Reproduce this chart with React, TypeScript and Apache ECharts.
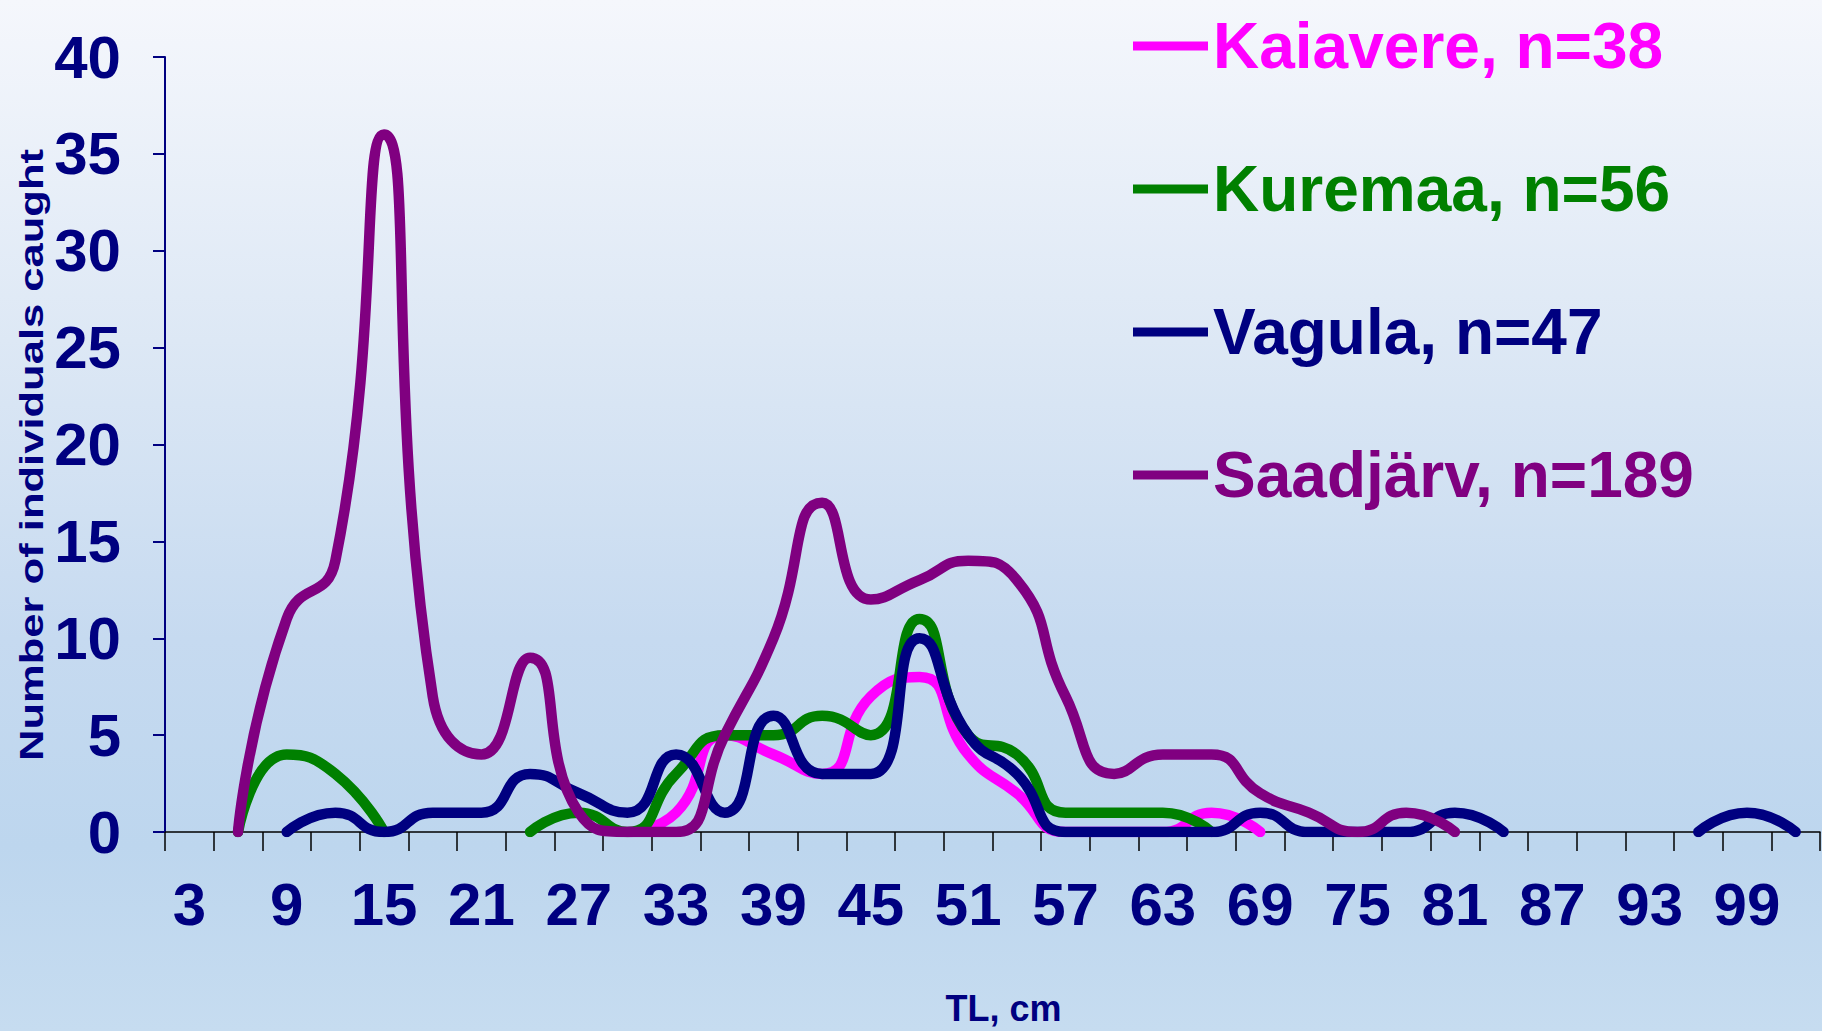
import React, { useEffect, useRef } from 'react';
import * as echarts from 'echarts';

const categories = [
  '3', '6', '9', '12', '15', '18', '21', '24', '27', '30', '33', '36', '39', '42', '45', '48', '51',
  '54', '57', '60', '63', '66', '69', '72', '75', '78', '81', '84', '87', '90', '93', '96', '99', '102',
];

// values per category (3 ... 102); null = no point
const kaiavere = [
  null, null, null, null, null, null, null, null, null, 0, 1, 5, 4, 3, 7, 8, 4,
  2, 0, 0, 0, 1, 0, null, null, null, null, null, null, null, null, null, null, null,
];
const kuremaa = [
  null, 0, 4, 3, 0, null, null, 0, 1, 0, 3, 5, 5, 6, 5, 11, 5,
  4, 1, 1, 1, 0, null, null, null, null, null, null, null, null, null, null, null, null,
];
const vagula = [
  null, null, 0, 1, 0, 1, 1, 3, 2, 1, 4, 1, 6, 3, 3, 10, 5,
  3, 0, 0, 0, 0, 1, 0, 0, 0, 1, 0, null, null, null, 0, 1, 0,
];
const saadjarv = [
  null, 0, 11, 14, 36, 7, 4, 9, 1, 0, 0, 5, 10, 17, 12, 13, 14,
  13, 7, 3, 4, 4, 2, 1, 0, 1, 0, null, null, null, null, null, null, null,
];

const seriesNames = ['Kaiavere, n=38', 'Kuremaa, n=56', 'Vagula, n=47', 'Saadjärv, n=189'];
const seriesColors = ['#FF00FF', '#008000', '#000080', '#800080'];
const seriesData = [kaiavere, kuremaa, vagula, saadjarv];

const yAxisTitle = 'Number of individuals caught';
const xAxisTitle = 'TL, cm';

const NAVY = '#000080';
const NARROW = "'Liberation Sans Narrow', 'Arial Narrow', 'Liberation Sans', Arial, sans-serif";
const SANS = "'Liberation Sans', Arial, sans-serif";

export default function App() {
  const ref = useRef<HTMLDivElement>(null);

  useEffect(() => {
    document.body.style.margin = '0';
    if (!ref.current) return;
    const chart = echarts.init(ref.current, null, { renderer: 'svg' });
    chart.setOption({
      animation: false,
      backgroundColor: 'transparent',
      grid: { left: 165, right: 2, top: 57, bottom: 198, containLabel: false },
      legend: {
        orient: 'vertical',
        left: 1133,
        top: 14,
        padding: 0,
        itemGap: 79,
        itemWidth: 75,
        itemHeight: 9,
        icon: 'rect',
        selectedMode: false,
        data: seriesNames.map((n, i) => ({
          name: n,
          textStyle: { color: seriesColors[i] },
        })),
        textStyle: {
          fontFamily: SANS,
          fontWeight: 'bold',
          fontSize: 64,
          lineHeight: 64,
        },
      },
      xAxis: {
        type: 'category',
        data: categories,
        boundaryGap: true,
        name: xAxisTitle,
        nameLocation: 'middle',
        nameGap: 158,
        nameTextStyle: {
          fontFamily: SANS,
          fontWeight: 'bold',
          fontSize: 36,
          color: NAVY,
          padding: [0, 0, 0, 22],
        },
        axisLine: { show: true, lineStyle: { color: '#000000', width: 1.5 } },
        axisTick: { show: true, interval: 0, length: 19, lineStyle: { color: '#000000', width: 1.5 } },
        axisLabel: {
          interval: 1,
          margin: 42,
          fontFamily: NARROW,
          fontWeight: 'bold',
          fontSize: 60,
          color: NAVY,
        },
        splitLine: { show: false },
      },
      yAxis: {
        type: 'value',
        min: 0,
        max: 40,
        interval: 5,
        axisLine: { show: true, lineStyle: { color: NAVY, width: 2 } },
        axisTick: { show: true, length: 12, lineStyle: { color: NAVY, width: 2 } },
        axisLabel: {
          margin: 44,
          fontFamily: NARROW,
          fontWeight: 'bold',
          fontSize: 60,
          color: NAVY,
        },
        splitLine: { show: false },
      },
      graphic: [
        {
          type: 'text',
          x: 31,
          y: 455,
          rotation: Math.PI / 2,
          scaleX: 1.32,
          style: {
            text: yAxisTitle,
            fill: NAVY,
            font: `bold 33px ${SANS}`,
            align: 'center',
            verticalAlign: 'middle',
          },
        },
      ],
      series: seriesData.map((d, i) => ({
        name: seriesNames[i],
        type: 'line',
        data: d,
        color: seriesColors[i],
        smooth: 0.55,
        showSymbol: false,
        symbol: 'none',
        connectNulls: false,
        lineStyle: { color: seriesColors[i], width: 10.5, cap: 'round', join: 'round' },
        z: 2 + i,
      })),
    });
    return () => chart.dispose();
  }, []);

  return (
    <div
      ref={ref}
      style={{
        width: 1822,
        height: 1031,
        background:
          'linear-gradient(180deg, #F5F7FC 0%, #DDE8F5 33%, #C6DAF0 62%, #BDD6EE 82%, #C6DCF0 100%)',
      }}
    />
  );
}
